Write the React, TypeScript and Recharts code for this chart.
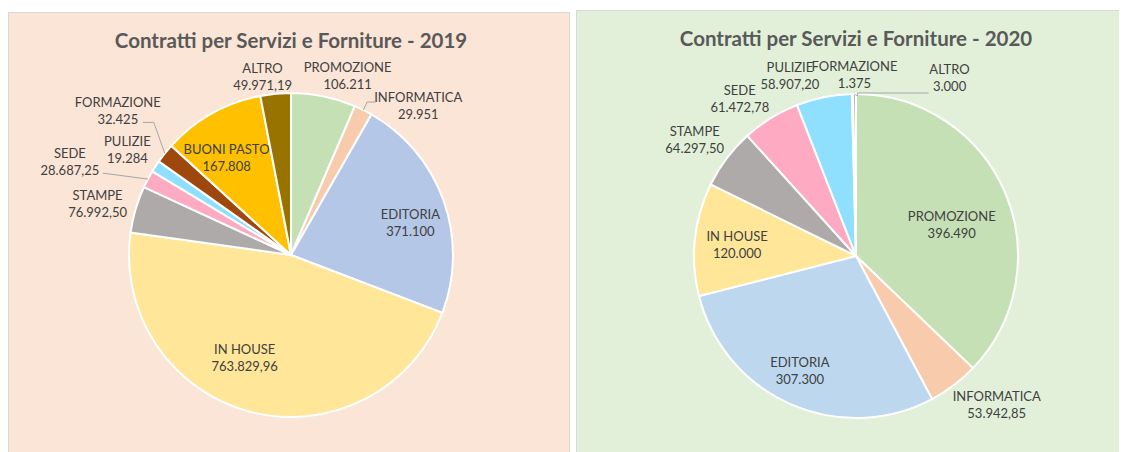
import React from 'react';
import { PieChart, Pie, Cell } from 'recharts';

// 2019 (clockwise from 12 o'clock, as in the original)
const categories2019 = ['PROMOZIONE', 'INFORMATICA', 'EDITORIA', 'IN HOUSE', 'STAMPE', 'SEDE', 'PULIZIE', 'FORMAZIONE', 'BUONI PASTO', 'ALTRO'];
const values2019 = [106211, 29951, 371100, 763829.96, 76992.5, 28687.25, 19284, 32425, 167808, 49971.19];

// 2020
const categories2020 = ['PROMOZIONE', 'INFORMATICA', 'EDITORIA', 'IN HOUSE', 'STAMPE', 'SEDE', 'PULIZIE', 'FORMAZIONE', 'ALTRO'];
const values2020 = [396490, 53942.85, 307300, 120000, 64297.5, 61472.78, 58907.2, 1375, 3000];

const titles = ['Contratti per Servizi e Forniture - 2019', 'Contratti per Servizi e Forniture - 2020'];

const colors2019: Record<string, string> = {
  PROMOZIONE: '#C5E0B4',
  INFORMATICA: '#F8CBAD',
  EDITORIA: '#B4C7E7',
  'IN HOUSE': '#FFE699',
  STAMPE: '#AEAAAA',
  SEDE: '#FFAAC3',
  PULIZIE: '#8FE0FF',
  FORMAZIONE: '#9E480E',
  'BUONI PASTO': '#FFC000',
  ALTRO: '#997300',
};
const colors2020: Record<string, string> = { ...colors2019, EDITORIA: '#BDD7EE', ALTRO: '#A5A5A5' };

type LabelCfg = { rf: number; dx: number; dy: number; line?: [number, number][] };

// label placement: point on the radius (rf * outerRadius) at the slice's mid angle, then nudged
const labels2019: Record<string, LabelCfg> = {
  PROMOZIONE: { rf: 1, dx: 24, dy: -20 },
  INFORMATICA: { rf: 1, dx: 55, dy: -4, line: [[4, -8], [12, -8]] },
  EDITORIA: { rf: 0.75, dx: 5, dy: 9 },
  'IN HOUSE': { rf: 0.75, dx: -16, dy: -15 },
  STAMPE: { rf: 1, dx: -38, dy: -5 },
  SEDE: { rf: 1, dx: -78, dy: -17, line: [[-45, -6]] },
  PULIZIE: { rf: 1, dx: -28, dy: -16 },
  FORMAZIONE: { rf: 1, dx: -47, dy: -42, line: [[-11, -31], [-22, -31]] },
  'BUONI PASTO': { rf: 0.75, dx: -5, dy: 9 },
  ALTRO: { rf: 1, dx: -13, dy: -17 },
};

const labels2020: Record<string, LabelCfg> = {
  PROMOZIONE: { rf: 0.75, dx: -16, dy: 17 },
  INFORMATICA: { rf: 1, dx: 43, dy: 20 },
  EDITORIA: { rf: 0.75, dx: -7, dy: 4 },
  'IN HOUSE': { rf: 0.75, dx: 2, dy: 2 },
  STAMPE: { rf: 1, dx: -32, dy: -18 },
  SEDE: { rf: 1, dx: -31, dy: -19 },
  PULIZIE: { rf: 1, dx: -34, dy: -21 },
  FORMAZIONE: { rf: 1, dx: 2, dy: -19 },
  ALTRO: { rf: 1, dx: 95, dy: -16, line: [[3, 2], [3, -1], [74, -1]] },
};

const RAD = Math.PI / 180;
const FONT = 'Lato, "Open Sans", sans-serif';

const fmt = (v: number) => {
  const int = Math.floor(v);
  const dec = Math.round((v - int) * 100);
  const s = String(int).replace(/\B(?=(\d{3})+(?!\d))/g, '.');
  return dec > 0 ? `${s},${String(dec).padStart(2, '0')}` : s;
};

const makeLabel = (cfg: Record<string, LabelCfg>) => (props: any) => {
  const { cx, cy, midAngle, outerRadius, name, value } = props;
  const c = cfg[name];
  if (!c) return null;
  const cos = Math.cos(-midAngle * RAD);
  const sin = Math.sin(-midAngle * RAD);
  const ex = cx + outerRadius * cos;
  const ey = cy + outerRadius * sin;
  const r = outerRadius * c.rf;
  const x = cx + r * cos + c.dx;
  const y = cy + r * sin + c.dy;
  return (
    <g>
      {c.line && (
        <polyline
          points={[[0, 0], ...c.line].map(([px, py]) => `${ex + px},${ey + py}`).join(' ')}
          fill="none"
          stroke="#A6A6A6"
          strokeWidth={1}
        />
      )}
      <text x={x} y={y - 4} textAnchor="middle" fill="#404040" fontSize={13} fontFamily={FONT}>
        {name}
      </text>
      <text x={x} y={y + 13} textAnchor="middle" fill="#404040" fontSize={13} fontFamily={FONT}>
        {fmt(value)}
      </text>
    </g>
  );
};

interface PanelProps {
  left: number;
  top: number;
  width: number;
  height: number;
  bg: string;
  title: string;
  categories: string[];
  values: number[];
  colors: Record<string, string>;
  labels: Record<string, LabelCfg>;
  cx: number;
  cy: number;
}

const Panel: React.FC<PanelProps> = ({ left, top, width, height, bg, title, categories, values, colors, labels, cx, cy }) => {
  const data = categories.map((name, i) => ({ name, value: values[i] }));
  return (
    <div
      style={{
        position: 'absolute',
        left,
        top,
        width,
        height,
        background: bg,
        border: '1px solid #D9D9D9',
        boxSizing: 'border-box',
      }}
    >
      <PieChart width={width - 2} height={height - 2} margin={{ top: 0, right: 0, bottom: 0, left: 0 }}>
        <text
          x={cx}
          y={35}
          textAnchor="middle"
          fill="#595959"
          fontSize={20.5}
          fontWeight={700}
          fontFamily={FONT}
        >
          {title}
        </text>
        <Pie
          data={data}
          dataKey="value"
          nameKey="name"
          cx={cx}
          cy={cy}
          outerRadius={162}
          startAngle={90}
          endAngle={-270}
          stroke="#FFFFFF"
          strokeWidth={2}
          label={makeLabel(labels)}
          labelLine={false}
          isAnimationActive={false}
        >
          {data.map((d) => (
            <Cell key={d.name} fill={colors[d.name]} />
          ))}
        </Pie>
      </PieChart>
    </div>
  );
};

export default function App() {
  return (
    <div style={{ position: 'relative', width: 1127, height: 452, margin: '-8px 0 0 -8px', overflow: 'hidden', background: '#FFFFFF' }}>
      <Panel
        left={8}
        top={12}
        width={562}
        height={446}
        bg="#FBE5D6"
        title={titles[0]}
        categories={categories2019}
        values={values2019}
        colors={colors2019}
        labels={labels2019}
        cx={282}
        cy={242}
      />
      <Panel
        left={576}
        top={10}
        width={556}
        height={448}
        bg="#E2F0D9"
        title={titles[1]}
        categories={categories2020}
        values={values2020}
        colors={colors2020}
        labels={labels2020}
        cx={279}
        cy={245}
      />
    </div>
  );
}
